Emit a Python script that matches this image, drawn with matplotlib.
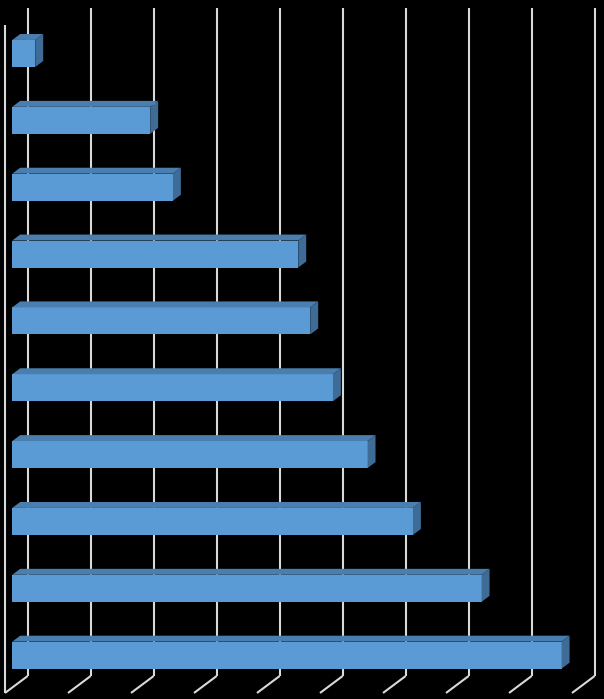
import matplotlib
matplotlib.use('Agg')
import matplotlib.pyplot as plt
from matplotlib.patches import Polygon

# bar values, top to bottom
values = [0.365, 2.19, 2.55, 4.54, 4.73, 5.09, 5.64, 6.36, 7.45, 8.72]
x_max = 9
grid_ticks = list(range(0, 10))

FRONT = '#5B9BD5'
TOP = '#4A7EAF'
SIDE = '#3F6C96'
GRID = '#D9D9D9'

# oblique depth: one depth unit moves right (value units) and up (category units)
DX = 0.360
DY = 0.254


def proj(v, c, z):
    """
    Oblique projection of (value, category, depth) onto the axes plane
    """
    return v + z * DX, c - z * DY


fig = plt.figure(figsize=(6.04, 6.99), dpi=100, facecolor='black')
ax = fig.add_axes([0, 0, 1, 1])
ax.set_facecolor('black')
ax.set_xlim(-0.0794, 9.508)
ax.set_ylim(9.575, -0.881)
ax.axis('off')

c_top = -0.507
c_floor = 9.485

# left wall front edge
ax.plot(*zip(proj(0, c_top, 0), proj(0, c_floor, 0)), color=GRID, lw=1.5,
        solid_capstyle='butt')
# back wall gridlines and floor diagonals
for k in grid_ticks:
    ax.plot(*zip(proj(k, c_top, 1), proj(k, c_floor, 1)), color=GRID, lw=1.5,
            solid_capstyle='butt')
    ax.plot(*zip(proj(k, c_floor, 1), proj(k, c_floor, 0)), color=GRID, lw=1.5,
            solid_capstyle='butt')

h = 0.404
zf = 0.32   # front face depth
zb = 0.67   # back face depth
for i, v in enumerate(values):
    y0 = i - h / 2
    y1 = i + h / 2
    fx, fy = proj(0, i, zf)
    ax.barh(fy, v, left=fx, height=h, color=FRONT, zorder=3)
    top = [proj(0, y0, zf), proj(v, y0, zf), proj(v, y0, zb), proj(0, y0, zb)]
    ax.add_patch(Polygon(top, closed=True, facecolor=TOP, edgecolor='none',
                         zorder=3))
    side = [proj(v, y0, zf), proj(v, y1, zf), proj(v, y1, zb), proj(v, y0, zb)]
    ax.add_patch(Polygon(side, closed=True, facecolor=SIDE, edgecolor='none',
                         zorder=3))

fig.savefig('out.png', dpi=100, facecolor='black')
